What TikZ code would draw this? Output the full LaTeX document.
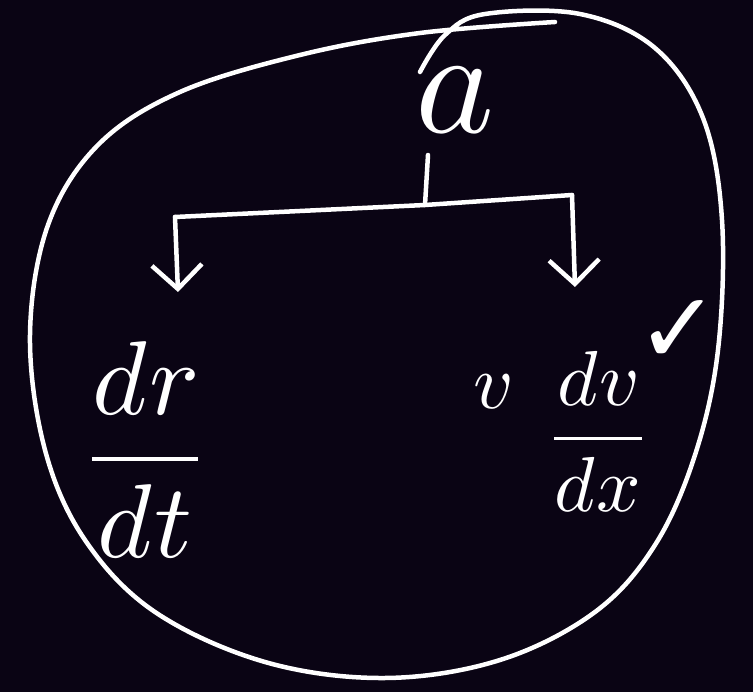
\documentclass[tikz,border=0pt]{standalone}
\usepackage{fontspec}
\usepackage{unicode-math}
\setmathfont{Latin Modern Math}
\newfontfamily\symfont{DejaVu Sans}
\usetikzlibrary{arrows.meta}
\definecolor{bg}{RGB}{10,4,20}
\begin{document}
\begin{tikzpicture}[x=1pt,y=-1pt,
  ink/.style={draw=white,line width=4.5pt,line cap=round,line join=round},
  hand/.style={text=white,inner sep=0pt},
  tip/.style={-{Straight Barb[length=24pt,width=50pt,line width=4.5pt]}}]
\fill[bg] (0,0) rectangle (753,692);
\useasboundingbox (0,0) rectangle (753,692);
% enclosing loop
\draw[ink] plot[smooth,tension=0.6] coordinates {
 (420,72) (445,35) (485,14) (580,14) (655,48) (703,118) (722,220)
 (718,350) (695,455) (655,545) (595,612) (500,660) (385,678)
 (265,662) (155,612) (85,540) (45,450) (30,335) (48,225)
 (98,145) (180,92) (300,55) (420,33) (555,22)};
% labels
\node[hand,font=\fontsize{150}{150}\selectfont] (a) at (455,100) {$a$};
\node[hand,font=\fontsize{105}{110}\selectfont] (lt) at (145,450) {$\displaystyle\frac{dr}{dt}$};
\node[hand,font=\fontsize{78}{80}\selectfont,anchor=east] (vv) at (512,392) {$v$};
\node[hand,font=\fontsize{78}{80}\selectfont] (rt) at (598,432) {$\displaystyle\frac{dv}{dx}$};
\node[hand,font=\symfont\fontsize{100}{100}\selectfont] (ck) at (678,332) {✓};
% tree
\coordinate (stem) at (428,155);
\coordinate (jn) at (425,205);
\coordinate (lc) at (175,217);
\coordinate (rc) at (572,195);
\coordinate (lend) at (178,292);
\coordinate (rend) at (575,287);
\draw[ink] (stem) -- (jn);
\draw[ink] (lc) -- (jn) -- (rc);
\draw[ink,tip] (lc) -- (lend);
\draw[ink,tip] (rc) -- (rend);
\end{tikzpicture}
\end{document}
